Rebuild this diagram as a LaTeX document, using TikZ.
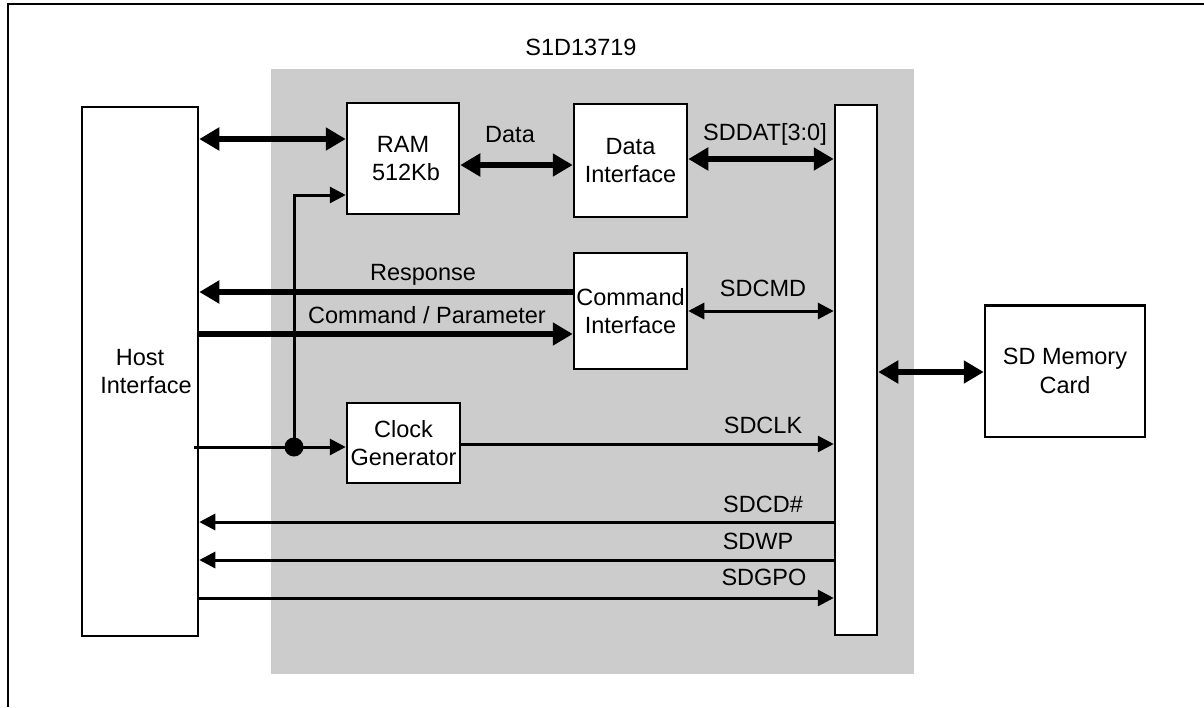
\documentclass[tikz,border=0pt]{standalone}
\usepackage{fontspec}
\setmainfont{Liberation Sans}
\usetikzlibrary{arrows.meta}
\newcommand\labfont{\fontsize{23.5}{28.5}\selectfont}
\definecolor{chipgray}{gray}{0.8}
\begin{document}
\begin{tikzpicture}[x=1pt,y=-1pt,
  box/.style={draw, line width=2.5pt, fill=white, inner sep=0pt, align=center, font=\labfont},
  lbl/.style={inner sep=0pt, anchor=base, font=\labfont},
  thk/.style={line width=5.5pt, >={Triangle[length=20pt,width=22pt]}},
  thn/.style={line width=3pt, >={Triangle[length=16pt,width=16pt]}}]
\useasboundingbox (0,0) rectangle (1204,707);
% outer frame (top and left only)
\draw[line width=2.5pt] (1204,4) -- (8,4) -- (8,707);
% chip area
\fill[chipgray] (271,69) rectangle (914,674);
\node[lbl] (title) at (581,55) {S1D13719};
% blocks
\node[box, minimum width=116pt, minimum height=529pt] (host) at (140,371.5) {Host\\\hspace*{12pt}Interface};
\node[box, minimum width=112pt, minimum height=111pt] (ram) at (403,158.5) {RAM\\\hspace*{6pt}512Kb};
\node[box, minimum width=113pt, minimum height=113pt] (dif) at (630.5,160.5) {Data\\Interface};
\node[box, minimum width=113pt, minimum height=116pt] (cmd) at (630.5,311) {Command\\Interface};
\node[box, minimum width=113pt, minimum height=80pt] (clk) at (403.5,443) {Clock\\Generator};
\node[box, minimum width=42pt, minimum height=530pt] (bus) at (856,370) {};
\node[box, minimum width=160pt, minimum height=131.5pt] (sd) at (1065,371) {SD Memory\\Card};
% connectors
\draw[thk,<->] (host.east |- 0,139) -- (ram.west |- 0,139);
\draw[thk,<->] (ram.east |- 0,165) -- (dif.west |- 0,165);
\node[lbl] (ldata) at (510,142) {Data};
\draw[thk,<->] (dif.east |- 0,159) -- (bus.west |- 0,159);
\node[lbl] (lsddat) at (765,140) {SDDAT[3:0]};
\draw[thk,->] (cmd.west |- 0,292) -- (host.east |- 0,292);
\node[lbl] (lresp) at (423,280) {Response};
\draw[thk,->] (host.east |- 0,334) -- (cmd.west |- 0,334);
\node[lbl] (lcmd) at (427,323) {Command / Parameter};
\draw[thn,<->] (cmd.east |- 0,311) -- (bus.west |- 0,311);
\node[lbl] (lsdcmd) at (763,296) {SDCMD};
% clock
\coordinate (cin) at (194,447);
\node[circle, fill=black, inner sep=0pt, minimum size=19pt] (dot) at (294,447) {};
\draw[thn] (cin) -- (dot.center);
\draw[thn,->] (dot.center) -- (clk.west |- dot);
\draw[thn,->] (dot.center) -- (dot.center |- 0,195) -- (ram.west |- 0,195);
\draw[thn,->] (clk.east |- 0,444) -- (bus.west |- 0,444);
\node[lbl] (lsdclk) at (763,433) {SDCLK};
\draw[thn,->] (bus.west |- 0,522) -- (host.east |- 0,522);
\node[lbl] (lsdcd) at (763,512) {SDCD\#};
\draw[thn,->] (bus.west |- 0,560) -- (host.east |- 0,560);
\node[lbl] (lsdwp) at (758,549) {SDWP};
\draw[thn,->] (host.east |- 0,598) -- (bus.west |- 0,598);
\node[lbl] (lsdgpo) at (764,585) {SDGPO};
\draw[thk,<->] (bus.east |- 0,372) -- (sd.west |- 0,372);
\end{tikzpicture}
\end{document}
